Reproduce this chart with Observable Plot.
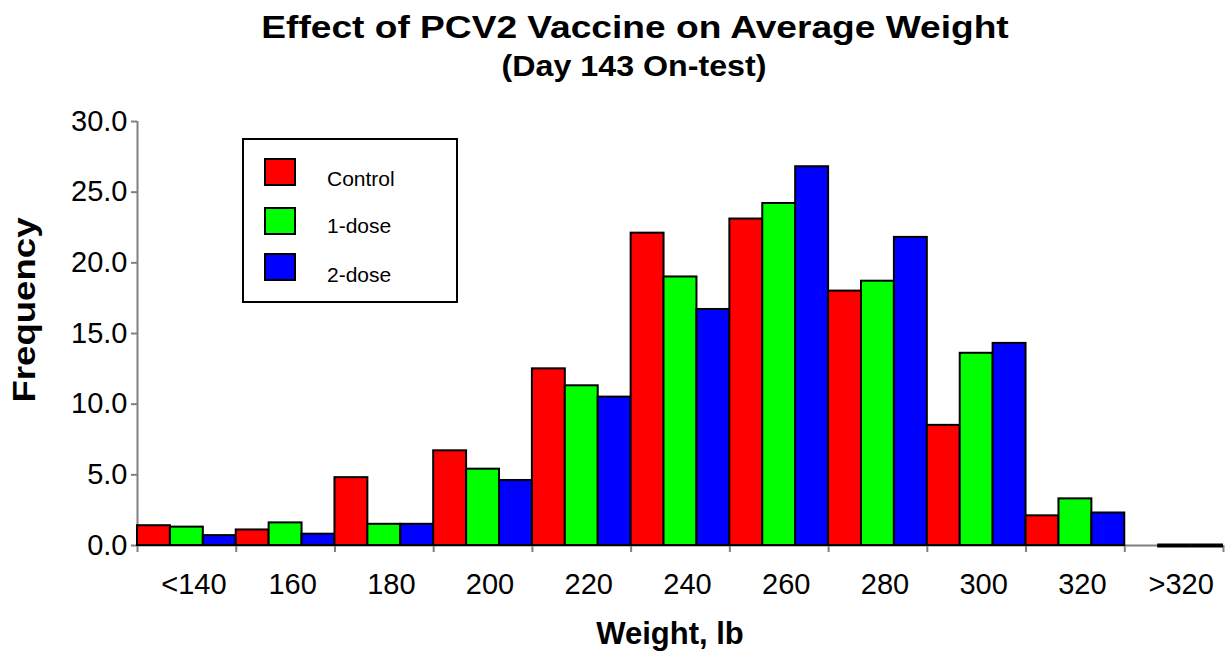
<!DOCTYPE html>
<html>
<head>
<meta charset="utf-8">
<script src="https://cdn.jsdelivr.net/npm/d3@7"></script>
<script src="https://cdn.jsdelivr.net/npm/@observablehq/plot@0.6"></script>
<style>
  html, body { margin: 0; padding: 0; background: #fff; }
  body { width: 1225px; height: 658px; position: relative; overflow: hidden; font-family: "Liberation Sans", Arial, sans-serif; color: #000; }
  .abs { position: absolute; white-space: nowrap; line-height: 1; }
  #title { left: 635px; top: 11px; font-size: 32px; font-weight: bold; transform: translateX(-50%) scaleX(1.16); }
  #subtitle { left: 634px; top: 52px; font-size: 29px; font-weight: bold; transform: translateX(-50%) scaleX(1.11); }
  #ylab { left: 24px; top: 310px; transform: translate(-50%, -50%) rotate(-90deg) scaleX(1.18); font-size: 31px; font-weight: bold; }
  #xlab { left: 670px; top: 618px; transform: translateX(-50%); font-size: 31px; font-weight: bold; }
  #legend { left: 242px; top: 138px; width: 212px; height: 161px; border: 2px solid #000; background: #fff; }
  .sw { position: absolute; width: 28px; height: 24px; border: 2px solid #000; left: 20px; }
  .lt { position: absolute; left: 83px; font-size: 21px; line-height: 21px; white-space: nowrap; }
  #chart { position: absolute; left: 0; top: 0; }
</style>
</head>
<body>
<div id="chart"></div>
<div id="title" class="abs">Effect of PCV2 Vaccine on Average Weight</div>
<div id="subtitle" class="abs">(Day 143 On-test)</div>
<div id="ylab" class="abs">Frequency</div>
<div id="xlab" class="abs">Weight, lb</div>
<div id="legend" class="abs"></div>
<script>
// ---- data ----
const bins = ["<140", "160", "180", "200", "220", "240", "260", "280", "300", "320", ">320"];
const seriesNames = ["Control", "1-dose", "2-dose"];
const seriesColors = ["#FF0000", "#00FF00", "#0000FF"];
const control = [1.4, 1.1, 4.8, 6.7, 12.5, 22.1, 23.1, 18.0, 8.5, 2.1, null];
const oneDose = [1.3, 1.6, 1.5, 5.4, 11.3, 19.0, 24.2, 18.7, 13.6, 3.3, 0];
const twoDose = [0.7, 0.8, 1.5, 4.6, 10.5, 16.7, 26.8, 21.8, 14.3, 2.3, 0];
const yTicks = [0, 5, 10, 15, 20, 25, 30];

// ---- table ----
const seriesValues = [control, oneDose, twoDose];
const rows = [];
bins.forEach((b, i) => {
  seriesValues.forEach((vals, s) => {
    const v = vals[i];
    if (v === null || v === undefined) return;
    rows.push({bin: b, series: seriesNames[s], x1: i + s / 3, x2: i + (s + 1) / 3, y: v});
  });
});
const barRows = rows.filter(d => d.y > 0);
const zeroRows = rows.filter(d => d.y === 0);

const grey = "#808080";
const chart = Plot.plot({
  width: 1225,
  height: 658,
  marginTop: 121,
  marginBottom: 113,
  marginLeft: 137,
  marginRight: 2,
  style: {fontFamily: "'Liberation Sans', Arial, sans-serif", fontSize: "29px", color: "#000", background: "transparent"},
  x: {domain: [0, bins.length]},
  y: {domain: [0, 30]},
  color: {domain: seriesNames, range: seriesColors},
  marks: [
    Plot.ruleX([0], {y1: 0, y2: 30, stroke: grey, strokeWidth: 2}),
    Plot.axisY({ticks: yTicks, tickFormat: d3.format(".1f"), tickSize: 6, tickPadding: 4, stroke: grey, strokeWidth: 2, label: null, fontSize: 29}),
    Plot.axisX({ticks: d3.range(bins.length + 1), tickSize: 7, tickFormat: () => "", stroke: grey, strokeWidth: 2, label: null}),
    Plot.axisX({ticks: d3.range(bins.length).map(i => i + 0.5), tickSize: 0, tickPadding: 28, dx: 7, tickFormat: (d) => bins[Math.floor(d)], label: null, fontSize: 29}),
    Plot.ruleY([0], {stroke: grey, strokeWidth: 2}),
    Plot.rectY(barRows, {x1: "x1", x2: "x2", y: "y", fill: "series", stroke: "#000", strokeWidth: 2}),
    Plot.ruleY(zeroRows, {x1: "x1", x2: "x2", y: "y", stroke: "#000", strokeWidth: 4})
  ]
});
document.getElementById("chart").appendChild(chart);

// ---- legend ----
const legend = document.getElementById("legend");
const swTops = [18, 67, 113];
const txTops = [28, 75, 124];
seriesNames.forEach((name, i) => {
  const sw = document.createElement("div");
  sw.className = "sw";
  sw.style.top = swTops[i] + "px";
  sw.style.background = seriesColors[i];
  legend.appendChild(sw);
  const t = document.createElement("div");
  t.className = "lt";
  t.style.top = txTops[i] + "px";
  t.textContent = name;
  legend.appendChild(t);
});
</script>
</body>
</html>
